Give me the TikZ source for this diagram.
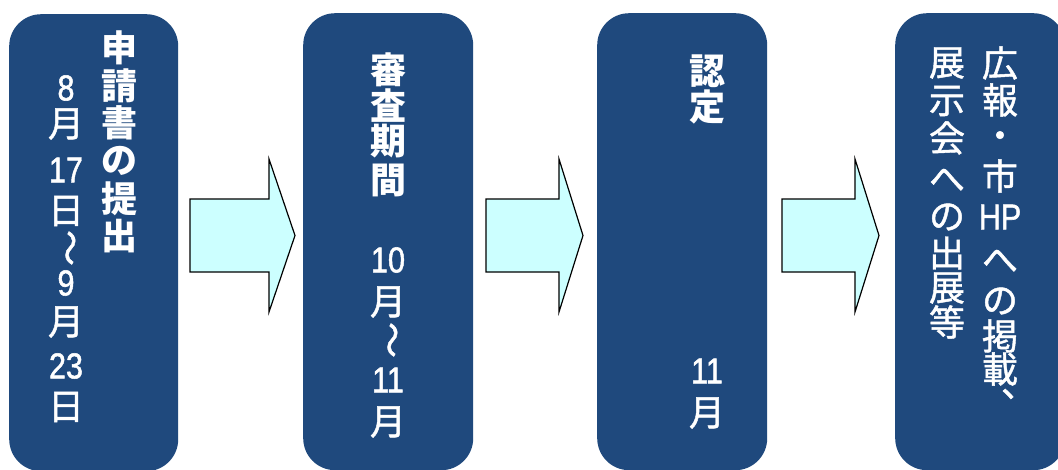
\documentclass[tikz,border=0pt]{standalone}
\usepackage{fontspec}
\usepackage{tikz}
\newfontfamily\jp[FakeBold=1.2]{Noto Sans CJK JP}
\newfontfamily\jpb{Noto Sans CJK JP}
\newfontfamily\lat[FakeBold=1.5]{Liberation Sans}
\definecolor{boxblue}{HTML}{1F497D}
\definecolor{arrowcyan}{HTML}{CCFFFF}
% 縦書きの数字と波ダッシュ
\newcommand\suji[1]{\scalebox{0.85}[1]{\lat #1}}
\newcommand\nami{\rotatebox{-90}{～}}
\tikzset{
  stage/.style={fill=boxblue, rounded corners=32pt, anchor=north west,
    minimum width=170pt, minimum height=457pt, inner sep=0pt},
  moji/.style={text=white, inner sep=0pt, font=\jp\fontsize{36}{36}\selectfont},
  futomoji/.style={moji, font=\jpb\bfseries\fontsize{36}{36}\selectfont},
  flow/.style={draw=black, fill=arrowcyan, line width=1.2pt, miter limit=20}
}
% 矢印
\newcommand\flowarrow[3]{%
  \draw[flow] (#1,199) -- (#2,199) -- (#2,159) -- (#3,235.5)
    -- (#2,312) -- (#2,272) -- (#1,272) -- cycle;}

\begin{document}
\begin{tikzpicture}[x=1pt,y=-1pt]
  \fill[white] (0,0) rectangle (1058,469);
  \useasboundingbox (0,0) rectangle (1058,469);

  % 申請書の提出
  \node[stage, minimum width=169pt] (apply) at (9,14) {};
  \foreach \c [count=\i] in {申,請,書,の,提,出}
    \node[futomoji] (apply-\i) at (119,{10.4+37.6*\i}) {\c};
  \foreach \c/\y [count=\i] in {\suji{8}/88, 月/124, \suji{17}/170, 日/211,
      \nami/248, \suji{9}/283, 月/322, \suji{23}/366, 日/407}
    \node[moji] (date-\i) at (66,\y) {\c};

  % 審査期間
  \node[stage] (review) at (303,13) {};
  \foreach \c/\y [count=\i] in {審/70, 査/106, 期/141, 間/180}
    \node[futomoji] (review-\i) at (388,\y) {\c};
  \foreach \c/\y [count=\i] in {\suji{10}/260, 月/302, \nami/340,
      \suji{11}/380, 月/422}
    \node[moji] (period-\i) at (388,\y) {\c};

  % 認定
  \node[stage] (cert) at (597,13) {};
  \foreach \c/\y [count=\i] in {認/71, 定/107}
    \node[futomoji] (cert-\i) at (707,\y) {\c};
  \foreach \c/\y [count=\i] in {\suji{11}/371, 月/413}
    \node[moji] (month-\i) at (707,\y) {\c};

  % 広報・市HPへの掲載、展示会への出展等
  \node[stage] (pr) at (895,13) {};
  \foreach \c/\y [count=\i] in {広/63, 報/100, ・/140, 市/176, \suji{HP}/217,
      へ/261, の/301, 掲/336, 載/369}
    \node[moji] (pr-\i) at (1000,\y) {\c};
  \node[moji] (pr-comma) at (1019,394) {、};
  \foreach \c/\y [count=\i] in {展/63, 示/101, 会/138, へ/180, の/217,
      出/253, 展/288, 等/322}
    \node[moji] (expo-\i) at (947,\y) {\c};

  % 矢印
  \flowarrow{190}{269}{295}
  \flowarrow{486}{559}{583}
  \flowarrow{782}{855}{879}
\end{tikzpicture}
\end{document}
